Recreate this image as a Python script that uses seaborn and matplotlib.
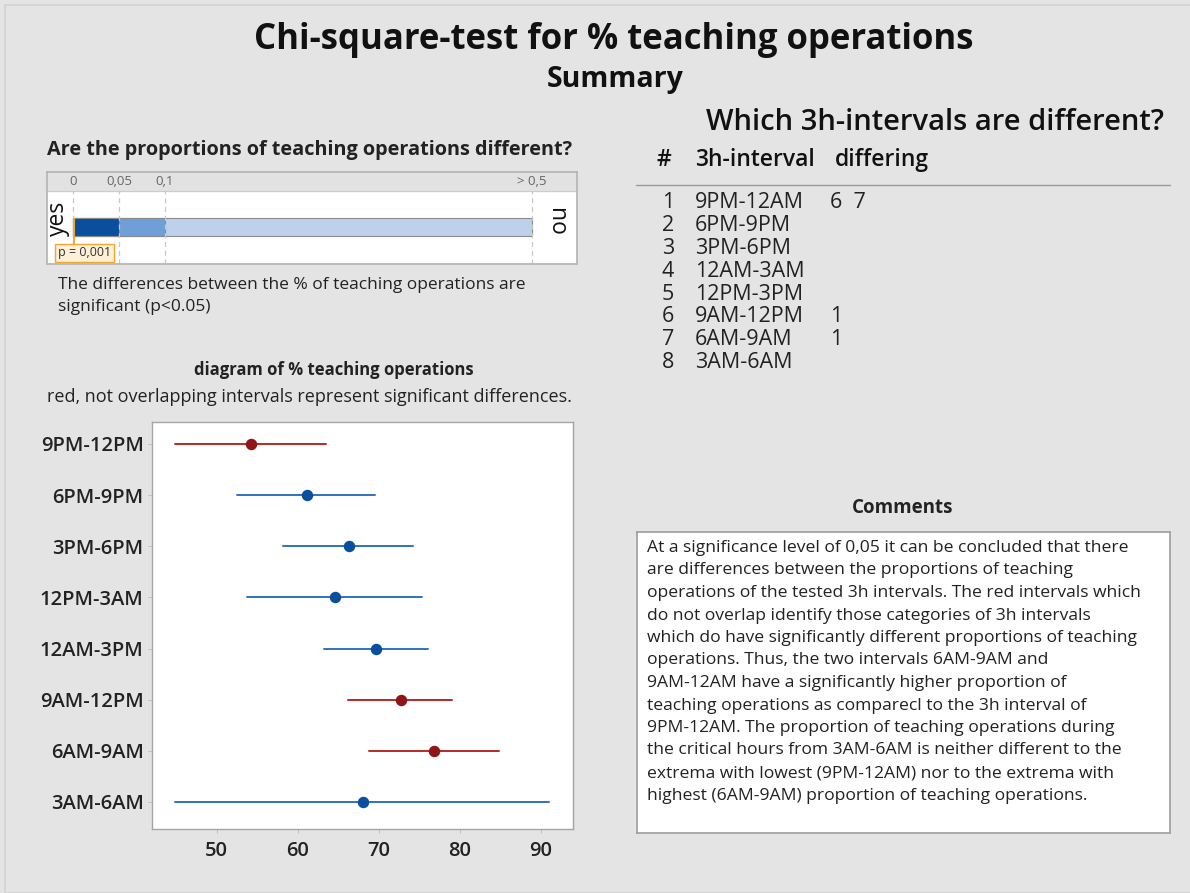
import numpy as np
import pandas as pd
import matplotlib.pyplot as plt
import seaborn as sns
from matplotlib.patches import Rectangle
from matplotlib.lines import Line2D

sns.set_theme(style="white")
plt.rcParams['font.family'] = ['Open Sans', 'DejaVu Sans']

# === data ===
intervals = ["9PM-12PM", "6PM-9PM", "3PM-6PM", "12PM-3AM",
             "12AM-3PM", "9AM-12PM", "6AM-9AM", "3AM-6AM"]
pct_est = [54.2, 61.1, 66.3, 64.6, 69.7, 72.7, 76.8, 68.0]
ci_low = [44.8, 52.5, 58.2, 53.7, 63.2, 66.2, 68.8, 44.8]
ci_high = [63.5, 69.6, 74.2, 75.4, 76.1, 79.0, 84.9, 91.0]
significant = [True, False, False, False, False, True, True, False]

p_value = 0.001
p_thresholds = [0.05, 0.1, 0.5]
p_tick_vals = [0, 0.05, 0.1, 0.5]
p_tick_labels = ["0", "0,05", "0,1", "> 0,5"]

table_num = ["1", "2", "3", "4", "5", "6", "7", "8"]
table_interval = ["9PM-12AM", "6PM-9PM", "3PM-6PM", "12AM-3AM",
                  "12PM-3PM", "9AM-12PM", "6AM-9AM", "3AM-6AM"]
table_diff = ["6  7", "", "", "", "", "1", "1", ""]

comment_lines = [
    "At a significance level of 0,05 it can be concluded that there",
    "are differences between the proportions of teaching",
    "operations of the tested 3h intervals. The red intervals which",
    "do not overlap identify those categories of 3h intervals",
    "which do have significantly different proportions of teaching",
    "operations. Thus, the two intervals 6AM-9AM and",
    "9AM-12AM have a significantly higher proportion of",
    "teaching operations as comparecl to the 3h interval of",
    "9PM-12AM. The proportion of teaching operations during",
    "the critical hours from 3AM-6AM is neither different to the",
    "extrema with lowest (9PM-12AM) nor to the extrema with",
    "highest (6AM-9AM) proportion of teaching operations.",
]

# === layout helpers (pixel -> figure fraction) ===
W, H = 1190, 893
BG = "#e4e4e4"


def fx(x):
    return x / W


def fy(y):
    return 1 - y / H


def ax_rect(x0, y0, x1, y1):
    return [fx(x0), fy(y1), (x1 - x0) / W, (y1 - y0) / H]


fig = plt.figure(figsize=(11.9, 8.93), dpi=100)
fig.patch.set_facecolor(BG)
fig.add_artist(Rectangle((fx(5), 0), 1, fy(5), transform=fig.transFigure,
                         fill=False, edgecolor="#d2d2d2", linewidth=1.2))

# titles
fig.text(fx(614), fy(40), "Chi-square-test for % teaching operations",
         ha="center", va="center", fontsize=25, fontweight="bold", color="#111")
fig.text(fx(615), fy(80), "Summary", ha="center", va="center",
         fontsize=20.5, fontweight="bold", color="#111")

# === p-value bar ===
fig.text(fx(47), fy(150), "Are the proportions of teaching operations different?",
         ha="left", va="center", fontsize=14.3, fontweight="bold", color="#222")

axp = fig.add_axes(ax_rect(47, 172, 577, 264))
axp.set_facecolor("white")
axp.set_xlim(-0.0283, 0.549)
axp.set_ylim(0, 1)
axp.axhspan(0.79, 1, color="#e2e2e2", zorder=0)
axp.axhline(0.79, color="#cccccc", lw=0.8)
for v in p_tick_vals:
    axp.vlines(v, 0, 0.79, colors="#c8c8c8", linestyles=(0, (4, 3)), lw=0.9)
for v, lab in zip(p_tick_vals, p_tick_labels):
    axp.text(v, 0.895, lab, ha="center", va="center", fontsize=9.5, color="#666")
bar_cols = ["#0a4f9e", "#6f9fd8", "#bdd1eb"]
for thr, col in zip(p_thresholds[::-1], bar_cols[::-1]):
    axp.barh(0.402, thr, height=0.196, left=0, color=col,
             edgecolor="#8a8a8a", linewidth=0.8)
axp.vlines(p_value, 0.2, 0.5, colors="#f0a830", lw=1.5)
axp.text(0.0125, 0.12, "p = 0,001", ha="center", va="center", fontsize=9,
         color="#333",
         bbox=dict(boxstyle="square,pad=0.2", fc="#fdf0d6", ec="#f0a830", lw=1))
axp.text(-0.016, 0.5, "yes", rotation=90, ha="center", va="center",
         fontsize=16.5, color="#111")
axp.text(0.526, 0.46, "no", rotation=270, ha="center", va="center",
         fontsize=16.5, color="#111")
axp.set_xticks([])
axp.set_yticks([])
for s in axp.spines.values():
    s.set_color("#b5b5b5")

fig.text(fx(58), fy(285), "The differences between the % of teaching operations are",
         ha="left", va="center", fontsize=12.5, color="#222")
fig.text(fx(58), fy(307), "significant (p<0.05)",
         ha="left", va="center", fontsize=12.5, color="#222")

# === interval diagram ===
fig.text(fx(334), fy(370), "diagram of % teaching operations",
         ha="center", va="center", fontsize=12, fontweight="bold", color="#222")
fig.text(fx(47), fy(397), "red, not overlapping intervals represent significant differences.",
         ha="left", va="center", fontsize=13, color="#222")

rows = []
for name, lo, est, hi, sig in zip(intervals, ci_low, pct_est, ci_high, significant):
    for v in (lo, est, hi):
        rows.append({"interval": name, "pct": v, "sig": "red" if sig else "blue"})
df = pd.DataFrame(rows)

axd = fig.add_axes(ax_rect(152, 422, 573, 829))
axd.set_facecolor("white")
# interval lines (lighter)
sns.pointplot(data=df, x="pct", y="interval", hue="sig", order=intervals,
              palette={"red": "#b52a2a", "blue": "#2f72c0"},
              estimator="median", errorbar=lambda v: (v.min(), v.max()),
              linestyle="none", markersize=0, err_kws={"linewidth": 1.4},
              dodge=False, legend=False, ax=axd)
# estimate dots (darker)
sns.pointplot(data=df, x="pct", y="interval", hue="sig", order=intervals,
              palette={"red": "#8e1616", "blue": "#0a4f9e"},
              estimator="median", errorbar=None, linestyle="none",
              marker="o", markersize=6.2, dodge=False, legend=False, ax=axd)
axd.set_xlim(42, 94)
axd.set_ylim(7.53, -0.43)
axd.set_xticks([50, 60, 70, 80, 90])
axd.set_xlabel("")
axd.set_ylabel("")
axd.tick_params(axis="x", labelsize=14.5, colors="#222", length=3, width=0.6,
                color="#bbbbbb", bottom=True, pad=6)
axd.tick_params(axis="y", labelsize=14.5, colors="#222", length=3, width=0.6,
                color="#bbbbbb", left=True, pad=3)
for lab in axd.get_xticklabels() + axd.get_yticklabels():
    lab.set_fontweight("semibold")
for s in axd.spines.values():
    s.set_color("#a5a5a5")
    s.set_linewidth(1)

# === table of differing intervals ===
fig.text(fx(935), fy(122), "Which 3h-intervals are different?",
         ha="center", va="center", fontsize=21, fontweight="semibold", color="#111")
fig.text(fx(664), fy(160), "#", ha="center", va="center", fontsize=16.5,
         fontweight="semibold", color="#111")
fig.text(fx(695), fy(160), "3h-interval", ha="left", va="center", fontsize=16.5,
         fontweight="semibold", color="#111")
fig.text(fx(835), fy(160), "differing", ha="left", va="center", fontsize=16.5,
         fontweight="semibold", color="#111")
fig.add_artist(Line2D([fx(636), fx(1170)], [fy(185), fy(185)],
                      transform=fig.transFigure, color="#9a9a9a", lw=1))
for i, (n, iv, d) in enumerate(zip(table_num, table_interval, table_diff)):
    yy = fy(203 + i * 22.8)
    fig.text(fx(668), yy, n, ha="center", va="center", fontsize=15.5, color="#222")
    fig.text(fx(695), yy, iv, ha="left", va="center", fontsize=15.5, color="#222")
    fig.text(fx(830), yy, d, ha="left", va="center", fontsize=15.5, color="#222")

# === comments box ===
fig.text(fx(903), fy(508), "Comments", ha="center", va="center",
         fontsize=13.5, fontweight="bold", color="#222")
axc = fig.add_axes(ax_rect(637, 532, 1170, 833))
axc.set_facecolor("white")
axc.set_xticks([])
axc.set_yticks([])
for s in axc.spines.values():
    s.set_color("#a0a0a0")
for i, line in enumerate(comment_lines):
    fig.text(fx(647), fy(548 + i * 22.5), line, ha="left", va="center",
             fontsize=12.6, color="#222")

fig.savefig("out.png", dpi=100, facecolor=BG)
